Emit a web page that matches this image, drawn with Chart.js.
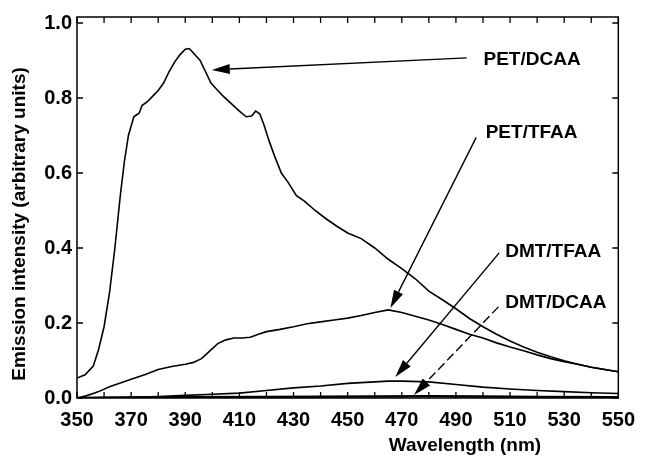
<!DOCTYPE html>
<html>
<head>
<meta charset="utf-8">
<script src="https://cdn.jsdelivr.net/npm/chart.js@4/dist/chart.umd.min.js"></script>
<style>
    html, body { margin: 0; padding: 0; background: #ffffff; }
    #emission-chart { display: block; }
</style>
</head>
<body>
<canvas id="emission-chart" width="645" height="464"></canvas>
<script>
//SPECTRA (wavelength in nm, intensity in arbitrary units)
let petDcaaNm = [350, 353, 356, 358, 360, 362, 364, 366, 367.5, 369, 371, 373, 374, 376, 378, 380, 382, 384, 386, 388, 390, 391.5, 393, 395.5, 397.5, 399.5, 402, 404, 407, 410, 412.5, 414.5, 416, 417.5, 419, 421, 423, 425.5, 428, 431, 434, 438, 442, 446, 450, 455, 460, 465, 470, 475, 480, 485, 490, 495, 500, 505, 510, 515, 520, 525, 530, 535, 540, 545, 550];
let petDcaaVal = [0.053, 0.062, 0.085, 0.13, 0.19, 0.28, 0.40, 0.54, 0.63, 0.70, 0.75, 0.76, 0.78, 0.79, 0.805, 0.82, 0.84, 0.87, 0.895, 0.915, 0.93, 0.932, 0.92, 0.90, 0.87, 0.84, 0.82, 0.805, 0.785, 0.765, 0.75, 0.752, 0.765, 0.758, 0.73, 0.685, 0.645, 0.60, 0.575, 0.54, 0.525, 0.50, 0.478, 0.458, 0.44, 0.425, 0.40, 0.37, 0.345, 0.318, 0.285, 0.262, 0.238, 0.212, 0.19, 0.17, 0.152, 0.136, 0.122, 0.11, 0.099, 0.09, 0.082, 0.076, 0.07];

let petTfaaNm = [350, 353, 356, 358, 362, 366, 370, 375, 380, 385, 390, 393, 396, 399, 402, 405, 408, 411, 414, 417, 420, 425, 430, 435, 440, 445, 450, 455, 460, 465, 470, 475, 480, 485, 490, 495, 500, 505, 510, 515, 520, 525, 530, 535, 540, 545, 550];
let petTfaaVal = [0.0, 0.005, 0.012, 0.017, 0.03, 0.04, 0.05, 0.062, 0.076, 0.084, 0.09, 0.095, 0.105, 0.125, 0.145, 0.155, 0.16, 0.16, 0.162, 0.17, 0.177, 0.183, 0.19, 0.198, 0.203, 0.208, 0.213, 0.22, 0.228, 0.235, 0.228, 0.218, 0.208, 0.196, 0.183, 0.17, 0.16, 0.147, 0.136, 0.126, 0.115, 0.105, 0.097, 0.09, 0.082, 0.076, 0.07];

let dmtTfaaNm = [350, 360, 370, 380, 390, 400, 410, 420, 430, 440, 450, 460, 465, 470, 480, 490, 500, 510, 520, 530, 540, 550];
let dmtTfaaVal = [0.0, 0.001, 0.002, 0.004, 0.007, 0.01, 0.013, 0.02, 0.027, 0.032, 0.039, 0.043, 0.045, 0.045, 0.043, 0.036, 0.029, 0.024, 0.02, 0.017, 0.014, 0.012];

let dmtDcaaNm = [350, 380, 420, 460, 480, 500, 520, 550];
let dmtDcaaVal = [0.0, 0.002, 0.003, 0.004, 0.005, 0.004, 0.003, 0.002];

let seriesNames = ['PET/DCAA', 'PET/TFAA', 'DMT/TFAA', 'DMT/DCAA'];

//AXES
let xTickLabels = [350, 370, 390, 410, 430, 450, 470, 490, 510, 530, 550];
let yTickLabels = [0.0, 0.2, 0.4, 0.6, 0.8, 1.0];
let xTitle = 'Wavelength (nm)';
let yTitle = 'Emission intensity (arbitrary units)';

const FONT = "'Liberation Sans', Arial, Helvetica, sans-serif";

//label -> arrow tip, in data units; dashed one for DMT/DCAA
let notes = [
    {text: seriesNames[0], at: [500.2, 0.901], from: [494.0, 0.907], to: [399.8, 0.875], dash: []},
    {text: seriesNames[1], at: [501.0, 0.707], from: [497.5, 0.695], to: [465.8, 0.240], dash: []},
    {text: seriesNames[2], at: [508.2, 0.389], from: [506.0, 0.387], to: [467.6, 0.056], dash: []},
    {text: seriesNames[3], at: [508.2, 0.253], from: [505.7, 0.243], to: [474.5, 0.008], dash: [9, 4]}
];

function toPoints(nm, val){
    return nm.map((x, i) => ({x: x, y: val[i]}));
}

function lineSet(label, nm, val, width){
    return {
        label: label,
        data: toPoints(nm, val),
        borderColor: '#000000',
        borderWidth: width,
        pointRadius: 0,
        tension: 0,
        fill: false
    };
}

function arrow(ctx, x1, y1, x2, y2, dash){
    let ang = Math.atan2(y2 - y1, x2 - x1);
    let len = 18;
    let half = 5;
    let bx = x2 - Math.cos(ang) * len;
    let by = y2 - Math.sin(ang) * len;

    ctx.save();
    ctx.strokeStyle = '#000';
    ctx.lineWidth = 1.4;
    ctx.setLineDash(dash);
    ctx.beginPath();
    ctx.moveTo(x1, y1);
    ctx.lineTo(bx, by);
    ctx.stroke();
    ctx.setLineDash([]);

    ctx.fillStyle = '#000';
    ctx.beginPath();
    ctx.moveTo(x2, y2);
    ctx.lineTo(bx + Math.sin(ang) * half, by - Math.cos(ang) * half);
    ctx.lineTo(bx - Math.sin(ang) * half, by + Math.cos(ang) * half);
    ctx.closePath();
    ctx.fill();
    ctx.restore();
}

//frame, inward ticks, axis titles and the arrowed labels
const decorations = {
    id: 'decorations',
    afterDatasetsDraw(chart){
        let ctx = chart.ctx;
        let area = chart.chartArea;
        let xs = chart.scales.x;
        let ys = chart.scales.y;

        ctx.save();
        ctx.strokeStyle = '#000';
        ctx.lineWidth = 1.5;
        ctx.strokeRect(area.left, area.top, area.right - area.left, area.bottom - area.top);

        ctx.lineWidth = 1.3;
        ctx.beginPath();
        for(let v = 350; v <= 550; v += 10){
            let px = xs.getPixelForValue(v);
            ctx.moveTo(px, area.bottom);
            ctx.lineTo(px, area.bottom - 6);
            ctx.moveTo(px, area.top);
            ctx.lineTo(px, area.top + 6);
        }
        yTickLabels.forEach(v => {
            let py = ys.getPixelForValue(v);
            ctx.moveTo(area.left, py);
            ctx.lineTo(area.left + 6, py);
            ctx.moveTo(area.right, py);
            ctx.lineTo(area.right - 6, py);
        });
        ctx.stroke();

        //axis titles
        ctx.fillStyle = '#000';
        ctx.font = `bold 19px ${FONT}`;
        ctx.textAlign = 'center';
        ctx.textBaseline = 'middle';
        ctx.fillText(xTitle, 465, 446);

        ctx.save();
        ctx.translate(20, 224);
        ctx.rotate(-Math.PI / 2);
        ctx.fillText(yTitle, 0, 0);
        ctx.restore();

        //series labels with arrows
        notes.forEach(n => {
            arrow(ctx,
                xs.getPixelForValue(n.from[0]), ys.getPixelForValue(n.from[1]),
                xs.getPixelForValue(n.to[0]), ys.getPixelForValue(n.to[1]),
                n.dash);
            ctx.font = `bold 19px ${FONT}`;
            ctx.textAlign = 'left';
            ctx.textBaseline = 'middle';
            ctx.fillText(n.text, xs.getPixelForValue(n.at[0]), ys.getPixelForValue(n.at[1]));
        });
        ctx.restore();
    }
};

let config = {
    type: 'line',
    data: {
        datasets: [
            lineSet(seriesNames[0], petDcaaNm, petDcaaVal, 1.6),
            lineSet(seriesNames[1], petTfaaNm, petTfaaVal, 1.6),
            lineSet(seriesNames[2], dmtTfaaNm, dmtTfaaVal, 1.6),
            lineSet(seriesNames[3], dmtDcaaNm, dmtDcaaVal, 2.4)
        ]
    },
    options: {
        responsive: false,
        animation: false,
        devicePixelRatio: 1,
        layout: {
            padding: {top: 17, right: 22, left: 0, bottom: 0}
        },
        scales: {
            x: {
                type: 'linear',
                min: 350,
                max: 550,
                afterBuildTicks: scale => {
                    scale.ticks = xTickLabels.map(v => ({value: v}));
                },
                afterFit: scale => {
                    scale.height = 66;
                },
                ticks: {
                    autoSkip: false,
                    maxRotation: 0,
                    padding: 10,
                    color: '#000',
                    font: {family: FONT, size: 20, weight: 'bold'},
                    callback: v => String(v)
                },
                grid: {display: false, drawTicks: false},
                border: {display: false}
            },
            y: {
                type: 'linear',
                min: 0,
                max: 1.016,
                afterBuildTicks: scale => {
                    scale.ticks = yTickLabels.map(v => ({value: v}));
                },
                afterFit: scale => {
                    scale.width = 77;
                },
                ticks: {
                    padding: 5,
                    color: '#000',
                    font: {family: FONT, size: 20, weight: 'bold'},
                    callback: v => v.toFixed(1)
                },
                grid: {display: false, drawTicks: false},
                border: {display: false}
            }
        },
        plugins: {
            legend: {display: false},
            tooltip: {enabled: false}
        }
    },
    plugins: [decorations]
};

new Chart(document.querySelector('#emission-chart'), config);
</script>
</body>
</html>
